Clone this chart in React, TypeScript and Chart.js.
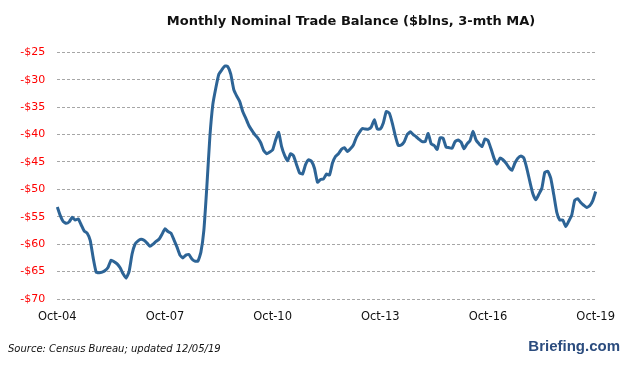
import React, { useEffect, useRef } from "react";
import { Chart, registerables } from "chart.js";

Chart.register(...registerables);

const TITLE = "Monthly Nominal Trade Balance ($blns, 3-mth MA)";
const SOURCE = "Source: Census Bureau; updated 12/05/19";
const BRAND = "Briefing.com";

const MONTH_NAMES = ["Jan", "Feb", "Mar", "Apr", "May", "Jun", "Jul", "Aug", "Sep", "Oct", "Nov", "Dec"];
const START_YEAR = 2004;
const START_MONTH = 9; // October
const TICK_EVERY = 36; // label every 3 years

const Y_MIN = -70;
const Y_MAX = -25;
const Y_STEP = 5;

// Monthly values, Oct-04 .. Oct-19 ($ billions, 3-month moving average)
const balance: number[] = [
  -53.2, -54.8, -55.9, -56.2, -55.9, -55.1, -55.6, -55.4, -56.5, -57.6,
  -58.0, -59.3, -62.5, -65.1, -65.2, -65.1, -64.8, -64.2, -62.9, -63.2,
  -63.6, -64.3, -65.4, -66.2, -65.0, -61.8, -60.0, -59.4, -59.1, -59.3,
  -59.8, -60.4, -60.0, -59.5, -59.1, -58.2, -57.2, -57.7, -58.0, -59.2,
  -60.5, -62.0, -62.5, -62.0, -61.9, -62.7, -63.1, -63.1, -61.5, -57.5,
  -49.5, -40.5, -34.5, -31.5, -29.0, -28.2, -27.5, -27.6, -29.0, -31.8,
  -33.0, -34.0, -35.8, -37.0, -38.3, -39.2, -40.0, -40.6, -41.5, -42.9,
  -43.5, -43.2, -42.8, -41.0, -39.6, -42.2, -43.8, -44.8, -43.5, -43.9,
  -45.5, -47.0, -47.2, -45.5, -44.6, -44.9, -46.2, -48.7, -48.2, -48.1,
  -47.2, -47.4, -45.2, -44.0, -43.5, -42.7, -42.4, -43.1, -42.6, -41.9,
  -40.5, -39.6, -38.9, -39.0, -39.0, -38.6, -37.3, -39.0, -39.0, -37.9,
  -35.8, -36.1, -37.9, -40.2, -42.0, -41.9, -41.3, -40.0, -39.5, -40.0,
  -40.4, -40.9, -41.3, -41.3, -39.8, -41.7, -42.0, -42.7, -40.6, -40.7,
  -42.3, -42.4, -42.5, -41.3, -41.0, -41.4, -42.6, -41.7, -41.1, -39.4,
  -41.0, -41.7, -42.2, -40.8, -41.1, -42.6, -44.3, -45.4, -44.3, -44.6,
  -45.2, -46.0, -46.5, -45.2, -44.3, -43.9, -44.3, -46.2, -48.6, -50.8,
  -51.9, -50.9, -49.8, -46.9, -46.7, -48.0, -51.0, -54.2, -55.6, -55.6,
  -56.8, -55.8, -54.7, -52.0, -51.7, -52.4, -52.9, -53.3, -53.0, -52.1,
  -50.4,
];

const months: string[] = balance.map((_, i) => {
  const m = START_MONTH + i;
  const yr = (START_YEAR + Math.floor(m / 12)) % 100;
  return MONTH_NAMES[m % 12] + "-" + String(yr).padStart(2, "0");
});

const W = 626;
const H = 367;

const decorPlugin = {
  id: "decor",
  afterDraw(chart: any) {
    const ctx = chart.ctx as CanvasRenderingContext2D;
    ctx.save();
    ctx.fillStyle = "#111111";
    ctx.font = "bold 13px 'DejaVu Sans'";
    ctx.textAlign = "center";
    ctx.textBaseline = "middle";
    ctx.fillText(TITLE, 351, 22);

    ctx.fillStyle = "#111111";
    ctx.font = "italic 10px 'DejaVu Sans'";
    ctx.textAlign = "left";
    ctx.fillText(SOURCE, 8, 349);

    ctx.fillStyle = "#2b4c7e";
    ctx.font = "bold 15px 'Liberation Sans'";
    ctx.textAlign = "right";
    ctx.fillText(BRAND, 620, 347);
    ctx.restore();
  },
};

export default function App() {
  const ref = useRef<HTMLCanvasElement | null>(null);

  useEffect(() => {
    document.body.style.margin = "0";
    if (!ref.current) return;
    const chart = new Chart(ref.current, {
      type: "line",
      data: {
        labels: months,
        datasets: [
          {
            data: balance,
            borderColor: "#2d6496",
            borderWidth: 3,
            pointRadius: 0,
            tension: 0.15,
            fill: false,
          },
        ],
      },
      options: {
        responsive: false,
        animation: false,
        layout: { padding: { left: 0, right: 28.3, top: 52.3, bottom: 0 } },
        plugins: {
          legend: { display: false },
          title: { display: false },
          tooltip: { enabled: false },
        },
        scales: {
          x: {
            type: "category",
            grid: { display: false, drawTicks: false },
            border: { display: false },
            afterFit: (scale: any) => {
              scale.height = 68;
            },
            ticks: {
              autoSkip: false,
              maxRotation: 0,
              minRotation: 0,
              padding: 11,
              color: "#111111",
              font: { family: "'DejaVu Sans'", size: 11.5 },
              callback: function (this: any, value: any, index: number) {
                return index % TICK_EVERY === 0 ? this.getLabelForValue(value) : "";
              },
            },
          },
          y: {
            min: Y_MIN,
            max: Y_MAX,
            afterFit: (scale: any) => {
              scale.width = 57.3;
            },
            grid: { color: "#a6a6a6", lineWidth: 1, drawTicks: false },
            border: { display: false, dash: [3, 2] },
            ticks: {
              stepSize: Y_STEP,
              padding: 12,
              color: "#ff0000",
              font: { family: "'DejaVu Sans'", size: 11 },
              callback: (v: any) => "-$" + Math.abs(Number(v)),
            },
          },
        },
      },
      plugins: [decorPlugin],
    });
    return () => chart.destroy();
  }, []);

  return (
    <div style={{ width: W, height: H, position: "relative" }}>
      <canvas ref={ref} width={W} height={H} style={{ display: "block" }} />
    </div>
  );
}
